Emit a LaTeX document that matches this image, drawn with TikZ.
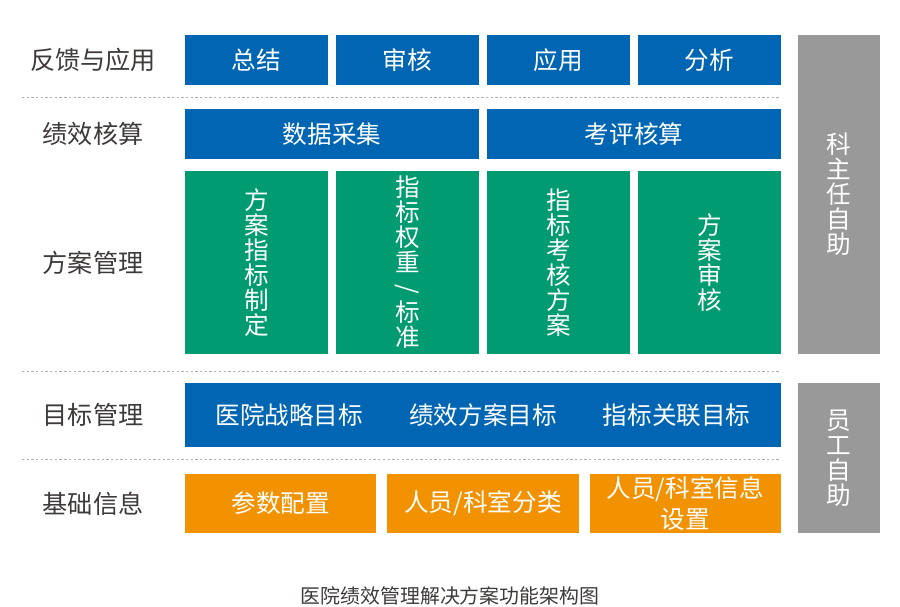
\documentclass[tikz,border=0pt]{standalone}
\usepackage{fontspec}
\setmainfont{Noto Sans CJK SC}
\usetikzlibrary{positioning}
\definecolor{planblue}{RGB}{0,102,179}
\definecolor{plangreen}{RGB}{0,155,112}
\definecolor{planorange}{RGB}{243,146,0}
\definecolor{plangray}{RGB}{153,153,153}
\definecolor{labelgray}{RGB}{62,58,57}
\definecolor{sepgray}{RGB}{175,175,175}
\newcommand{\vslash}{\rotatebox[origin=c]{-90}{/}}

\begin{document}
\begin{tikzpicture}[
    box/.style={rectangle, inner sep=0pt, outer sep=0pt, text=white, align=center, font=\fontsize{21}{25}\selectfont},
    fbbox/.style={box, fill=planblue, minimum width=4.29cm, minimum height=1.5cm},
    calcbox/.style={box, fill=planblue, minimum width=8.82cm, minimum height=1.5cm},
    planbox/.style={box, fill=plangreen, minimum width=4.29cm, minimum height=5.49cm, font=\fontsize{21}{21.3}\selectfont},
    goalbox/.style={box, fill=planblue, minimum width=17.88cm, minimum height=1.92cm},
    goaltext/.style={box},
    basebox/.style={box, fill=planorange, minimum width=5.74cm, minimum height=1.77cm, font=\fontsize{21}{26}\selectfont},
    selfbox/.style={box, fill=plangray, minimum width=2.46cm, font=\fontsize{21}{21.3}\selectfont},
    level/.style={text=labelgray, font=\fontsize{21.5}{25}\selectfont},
    sepline/.style={sepgray, line width=0.6pt, dash pattern=on 2pt off 2pt},
    caption/.style={text=labelgray, font=\fontsize{17}{21}\selectfont}
]
    \useasboundingbox (0,0) rectangle (27,-18.18);

    % Feedback
    \node[fbbox] (zj) at (7.695,-1.8) {总结};
    \node[fbbox] (sh) [right=0.24cm of zj] {审核};
    \node[fbbox] (yy) [right=0.24cm of sh] {应用};
    \node[fbbox] (fx) [right=0.24cm of yy] {分析};

    % Accounting
    \node[calcbox] (sjcj) [below right=0.72cm and 0cm of zj.south west] {数据采集};
    \node[calcbox] (kphs) [right=0.24cm of sjcj] {考评核算};

    % Plans
    \node[planbox] (g1) [below right=0.36cm and 0cm of sjcj.south west] {方\\案\\指\\标\\制\\定};
    \node[planbox] (g2) [right=0.24cm of g1] {指\\标\\权\\重\\\vslash\\标\\准};
    \node[planbox] (g3) [right=0.24cm of g2] {指\\标\\考\\核\\方\\案};
    \node[planbox] (g4) [right=0.24cm of g3] {方\\案\\审\\核};

    % Goals
    \node[goalbox] (goal) [below right=0.87cm and 0cm of g1.south west] {};
    \node[goaltext] (t2) at (goal.center) {绩效方案目标};
    \node[goaltext] (t1) [left=1.38cm of t2] {医院战略目标};
    \node[goaltext] (t3) [right=1.38cm of t2] {指标关联目标};

    % Basics
    \node[basebox] (o1) [below right=0.81cm and 0cm of goal.south west] {参数配置};
    \node[basebox] (o2) [right=0.33cm of o1] {人员/科室分类};
    \node[basebox] (o3) [right=0.33cm of o2] {人员/科室信息\\设置};

    % Self service
    \node[selfbox, minimum height=9.57cm] (kzr) [below right=0cm and 0.51cm of fx.north east] {科\\主\\任\\自\\助};
    \node[selfbox, minimum height=4.5cm] (yg) [below right=0cm and 0.51cm of goal.north east] {员\\工\\自\\助};

    % Row labels
    \node[level] (l1) at (2.79,-1.8) {反馈与应用};
    \node[level] (l2) at (l1 |- sjcj) {绩效核算};
    \node[level] (l3) at (l1 |- g1) {方案管理};
    \node[level] (l4) at (l1 |- goal) {目标管理};
    \node[level] (l5) at (l1 |- o1) {基础信息};

    % Separators
    \draw[sepline] (0.66,-2.91) -- (23.43,-2.91);
    \draw[sepline] (0.66,-11.13) -- (23.43,-11.13);
    \draw[sepline] (0.66,-13.77) -- (23.43,-13.77);

    \node[caption] (title) at (13.5,-17.88) {医院绩效管理解决方案功能架构图};

\end{tikzpicture}
\end{document}
